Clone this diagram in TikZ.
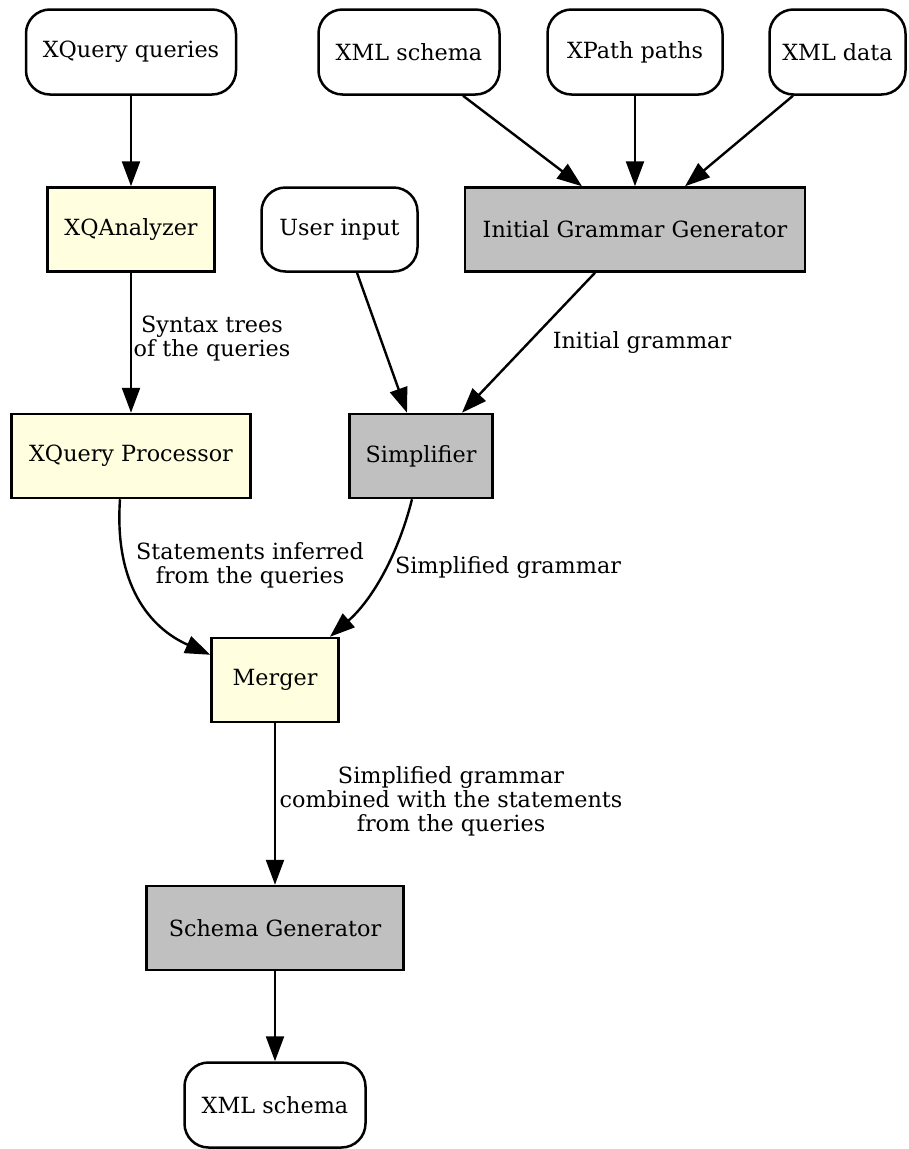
\documentclass[tikz,border=0pt]{standalone}
\usepackage{fontspec}
\setmainfont{DejaVu Serif}
\usetikzlibrary{arrows.meta}
\definecolor{lyellow}{HTML}{FFFFE0}
\definecolor{silvergray}{HTML}{C0C0C0}
\tikzset{
  iobox/.style={draw, line width=2.5pt, rounded corners=24pt, fill=white, inner sep=0pt, minimum height=85pt},
  ybox/.style={draw, line width=2.5pt, fill=lyellow, inner sep=0pt, minimum height=84pt},
  gbox/.style={draw, line width=2.5pt, fill=silvergray, inner sep=0pt, minimum height=84pt},
  flow/.style={line width=2.4pt, -{Triangle[length=25pt,width=18pt]}},
  lbl/.style={align=center, inner sep=0pt}
}
\begin{document}
\begin{tikzpicture}[x=1pt, y=-1pt, font=\fontsize{22.3}{24}\selectfont]
\useasboundingbox (0,0) rectangle (909,1149);
% input nodes
\node[iobox, minimum width=210pt] (xq) at (131,52) {XQuery queries};
\node[iobox, minimum width=181pt] (xs) at (409,52) {XML schema};
\node[iobox, minimum width=175pt] (xp) at (635,52) {XPath paths};
\node[iobox, minimum width=136pt] (xd) at (837.5,52) {XML data};
% second row
\node[ybox, minimum width=167pt] (xqa) at (131,229.5) {XQAnalyzer};
\node[iobox, minimum width=156pt, minimum height=84pt] (ui) at (339.5,229.5) {User input};
\node[gbox, minimum width=340pt] (igg) at (635,229.5) {Initial Grammar Generator};
% third row
\node[ybox, minimum width=239pt] (xqp) at (131,456) {XQuery Processor};
\node[gbox, minimum width=143pt] (simp) at (421,456) {Simplifier};
% lower
\node[ybox, minimum width=127pt] (merger) at (275,680) {Merger};
\node[gbox, minimum width=257pt] (sg) at (275,928) {Schema Generator};
\node[iobox, minimum width=181pt] (out) at (275,1105) {XML schema};
% edges
\draw[flow] (xq.south) -- (xqa.north);
\draw[flow] ([xshift=54pt]xs.south) -- ([xshift=-53pt]igg.north);
\draw[flow] (xp.south) -- (igg.north);
\draw[flow] ([xshift=-44.5pt]xd.south) -- ([xshift=50pt]igg.north);
\draw[flow] ([xshift=17.5pt]ui.south) -- ([xshift=-14pt]simp.north);
\draw[flow] ([xshift=-40pt]igg.south) -- ([xshift=41pt]simp.north);
\draw[flow] (xqa.south) -- (xqp.north);
\draw[flow] ([xshift=-11pt]xqp.south) .. controls (114,585) and (150,628) .. ([yshift=-18pt]merger.north west);
\draw[flow] ([xshift=-9pt]simp.south) .. controls (398,555) and (372,600) .. ([xshift=55pt]merger.north);
\draw[flow] (merger.south) -- (sg.north);
\draw[flow] (sg.south) -- (out.north);
% labels
\node[lbl] (l1) at (212,339) {Syntax trees\\of the queries};
\node[lbl] (l2) at (642,342) {Initial grammar};
\node[lbl] (l3) at (250,565) {Statements inferred\\from the queries};
\node[lbl] (l4) at (508,567) {Simplified grammar};
\node[lbl] (l5) at (451,801) {Simplified grammar\\combined with the statements\\from the queries};
\end{tikzpicture}
\end{document}
